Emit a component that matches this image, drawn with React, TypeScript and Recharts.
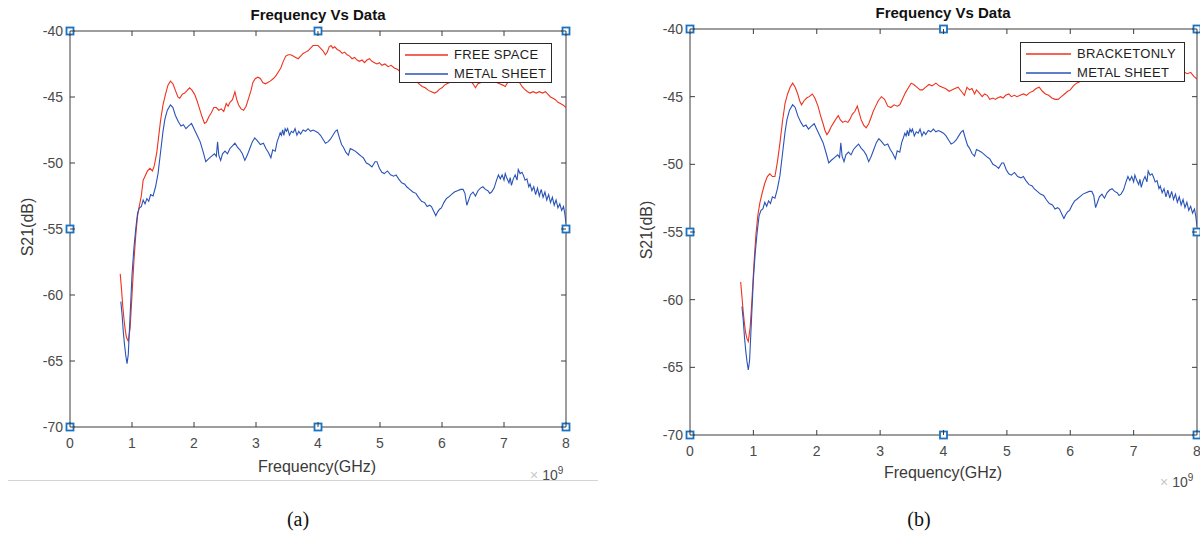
import React from "react";
import { LineChart, Line, XAxis, YAxis, Legend, ReferenceDot, ReferenceLine } from "recharts";

const xTicks = [0, 1, 2, 3, 4, 5, 6, 7, 8];
const yTicks = [-70, -65, -60, -55, -50, -45, -40];

// selection handles drawn by MATLAB on the axes box
const handleFreq = [0, 4, 8, 0, 8, 0, 4, 8];
const handleDb = [-40, -40, -40, -55, -55, -70, -70, -70];

// METAL SHEET (same trace in both panels), GHz / dB
const metalFreq = [
  0.82, 0.84, 0.86, 0.88, 0.9, 0.92, 0.94, 0.96, 0.98, 1.0, 1.03, 1.06, 1.09, 1.12, 1.15, 1.18, 1.21, 1.24, 1.27, 1.3,
  1.34, 1.38, 1.42, 1.46, 1.5, 1.53, 1.57, 1.62, 1.66, 1.7, 1.75, 1.79, 1.83, 1.87, 1.91, 1.96, 2.0, 2.05, 2.1, 2.15,
  2.19, 2.23, 2.28, 2.33, 2.36, 2.38, 2.4, 2.43, 2.46, 2.5, 2.54, 2.58, 2.62, 2.66, 2.7, 2.74, 2.78, 2.82, 2.86, 2.9,
  2.94, 2.98, 3.02, 3.07, 3.12, 3.16, 3.2, 3.24, 3.27, 3.31, 3.34, 3.37, 3.39, 3.41, 3.43, 3.45, 3.47, 3.49, 3.51, 3.54,
  3.57, 3.6, 3.63, 3.66, 3.69, 3.72, 3.76, 3.8, 3.84, 3.88, 3.92, 3.96, 4.0, 4.04, 4.08, 4.12, 4.16, 4.2, 4.24, 4.28,
  4.31, 4.34, 4.38, 4.41, 4.45, 4.49, 4.52, 4.56, 4.6, 4.65, 4.7, 4.73, 4.78, 4.82, 4.87, 4.92, 4.95, 4.99, 5.03, 5.07,
  5.12, 5.17, 5.22, 5.26, 5.3, 5.35, 5.4, 5.43, 5.48, 5.53, 5.58, 5.62, 5.67, 5.72, 5.76, 5.8, 5.83, 5.87, 5.9, 5.93,
  5.96, 5.99, 6.03, 6.07, 6.1, 6.15, 6.2, 6.25, 6.3, 6.34, 6.37, 6.4, 6.43, 6.46, 6.5, 6.54, 6.58, 6.62, 6.66, 6.7,
  6.74, 6.77, 6.8, 6.84, 6.88, 6.91, 6.94, 6.97, 7.0, 7.02, 7.05, 7.08, 7.1, 7.12, 7.15, 7.18, 7.21, 7.23, 7.26, 7.29,
  7.31, 7.34, 7.37, 7.4, 7.42, 7.45, 7.48, 7.51, 7.54, 7.57, 7.6, 7.63, 7.66, 7.69, 7.72, 7.75, 7.78, 7.81, 7.84, 7.87,
  7.9, 7.93, 7.96, 7.98, 8.0,
];
const metalDb = [
  -60.5, -61.5, -62.8, -63.8, -64.6, -65.2, -64.5, -62.5, -60.5, -58.5, -56.5, -55.0, -53.8, -53.4, -53.3, -52.8, -53.1, -52.7, -52.9, -52.4,
  -52.5, -51.8, -50.8, -49.2, -47.6, -46.7, -46.0, -45.6, -45.8, -46.4, -46.9, -47.2, -47.1, -47.4, -47.2, -47.0, -47.4, -47.9, -48.4, -49.2,
  -49.9, -49.7, -49.5, -49.3, -49.5, -48.4, -49.4, -49.8, -49.3, -49.1, -49.3, -48.9, -48.7, -48.5, -48.8, -49.0, -49.3, -49.8, -49.4, -48.9,
  -48.4, -48.1, -48.3, -48.6, -48.5, -48.9, -49.2, -49.6, -49.0, -49.1, -48.4, -48.0, -47.7, -47.9, -47.5, -47.9, -47.4, -47.6, -47.4, -47.9,
  -47.6, -47.7, -47.4, -47.9, -47.6, -47.8, -47.5, -47.6, -47.4, -47.6, -47.5, -47.6, -47.7, -47.9, -48.2, -48.5, -48.4, -48.2, -47.9, -47.6,
  -47.5, -48.0, -48.6, -48.8, -49.2, -49.4, -48.9, -49.0, -49.1, -49.3, -49.5, -49.6, -50.0, -50.1, -50.3, -49.9, -49.9, -50.4, -50.7, -50.8,
  -50.6, -50.9, -51.0, -50.9, -51.2, -51.5, -51.6, -51.8, -52.0, -52.2, -52.3, -52.6, -52.9, -53.0, -53.3, -53.2, -53.3, -53.7, -54.0, -53.7,
  -53.5, -53.4, -53.0, -52.7, -52.6, -52.4, -52.2, -52.1, -52.0, -52.0, -52.3, -53.2, -52.8, -52.4, -52.2, -52.5, -52.1, -51.9, -51.8, -52.0,
  -52.1, -52.3, -52.2, -51.9, -51.3, -50.9, -51.2, -50.9, -51.3, -50.8, -51.2, -51.5, -51.1, -51.7, -51.2, -50.9, -51.3, -50.5, -50.8, -50.7,
  -50.9, -51.3, -51.2, -51.8, -51.6, -52.1, -51.8, -52.4, -51.9, -52.5, -52.0, -52.6, -52.2, -52.8, -52.4, -53.0, -52.6, -53.2, -52.8, -53.4,
  -53.1, -53.6, -53.3, -53.8, -54.6,
];

// FREE SPACE, panel (a)
const freeFreq = [
  0.81, 0.83, 0.85, 0.87, 0.89, 0.91, 0.94, 0.97, 1.0, 1.03, 1.06, 1.09, 1.12, 1.15, 1.18, 1.21, 1.25, 1.29, 1.33, 1.36,
  1.4, 1.43, 1.46, 1.5, 1.54, 1.58, 1.62, 1.66, 1.7, 1.74, 1.77, 1.81, 1.85, 1.89, 1.93, 1.97, 2.01, 2.05, 2.09, 2.13,
  2.17, 2.2, 2.24, 2.28, 2.32, 2.36, 2.4, 2.44, 2.48, 2.52, 2.55, 2.58, 2.62, 2.66, 2.69, 2.72, 2.76, 2.8, 2.84, 2.88,
  2.92, 2.95, 2.99, 3.03, 3.07, 3.11, 3.15, 3.19, 3.23, 3.28, 3.32, 3.36, 3.4, 3.44, 3.48, 3.52, 3.56, 3.6, 3.64, 3.68,
  3.72, 3.76, 3.8, 3.84, 3.88, 3.92, 3.96, 4.0, 4.04, 4.08, 4.12, 4.15, 4.18, 4.21, 4.24, 4.27, 4.31, 4.35, 4.39, 4.43,
  4.47, 4.51, 4.55, 4.59, 4.63, 4.67, 4.71, 4.75, 4.79, 4.83, 4.87, 4.91, 4.95, 4.99, 5.03, 5.08, 5.13, 5.18, 5.23, 5.28,
  5.33, 5.38, 5.43, 5.48, 5.53, 5.58, 5.63, 5.68, 5.73, 5.78, 5.83, 5.88, 5.92, 5.96, 6.0, 6.04, 6.08, 6.12, 6.17, 6.22,
  6.27, 6.32, 6.37, 6.42, 6.46, 6.5, 6.54, 6.58, 6.63, 6.68, 6.73, 6.78, 6.83, 6.88, 6.93, 6.98, 7.02, 7.06, 7.11, 7.16,
  7.2, 7.25, 7.29, 7.33, 7.38, 7.42, 7.47, 7.52, 7.57, 7.62, 7.67, 7.71, 7.75, 7.79, 7.83, 7.87, 7.91, 7.95, 8.0,
];
const freeDb = [
  -58.4, -59.5, -60.8, -61.8, -62.6, -63.2, -63.5, -62.5, -60.0, -57.5, -55.5, -54.0, -53.2, -52.5, -51.3, -51.0, -50.6, -50.4, -50.6, -50.2,
  -49.2, -48.0, -46.8, -45.6, -44.8, -44.1, -43.8, -44.0, -44.5, -45.0, -45.1, -44.8, -44.7, -44.5, -44.3, -44.5, -44.8, -45.3, -45.9, -46.5,
  -47.0, -46.9, -46.5, -46.2, -45.8, -45.8, -46.0, -45.9, -46.1, -45.5, -45.7, -45.4, -45.2, -44.6, -45.2, -45.6, -45.9, -46.0, -45.7, -45.1,
  -44.5, -43.9, -43.6, -43.5, -43.6, -43.9, -44.0, -43.9, -43.8, -43.6, -43.4, -43.1, -42.8, -42.3, -41.9, -41.8, -41.8, -41.9, -42.0, -42.1,
  -41.9, -41.7, -41.6, -41.5, -41.3, -41.1, -41.1, -41.1, -41.3, -41.5, -41.8, -41.6, -41.2, -41.1, -41.3, -41.2, -41.4, -41.5, -41.7, -41.6,
  -41.8, -41.9, -42.1, -42.0, -42.2, -42.3, -42.2, -42.4, -42.2, -42.1, -42.3, -42.4, -42.5, -42.4, -42.6, -42.5, -42.7, -42.6, -42.8, -42.9,
  -43.1, -43.0, -43.3, -43.4, -43.6, -43.8, -44.0, -44.2, -44.3, -44.5, -44.6, -44.7, -44.6, -44.4, -44.3, -44.1, -44.0, -43.9, -43.7, -43.8,
  -43.6, -43.7, -43.8, -43.9, -43.8, -44.0, -44.3, -44.0, -43.9, -43.8, -43.9, -43.7, -43.8, -43.9, -44.0, -44.1, -44.2, -43.9, -43.8, -43.7,
  -43.8, -43.9, -44.2, -44.4, -44.6, -44.7, -44.6, -44.7, -44.6, -44.7, -44.6, -44.8, -45.0, -45.1, -45.2, -45.4, -45.5, -45.6, -45.8,
];

// BRACKETONLY, panel (b)
const bracketFreq = [
  0.8, 0.82, 0.84, 0.86, 0.88, 0.9, 0.92, 0.95, 0.98, 1.01, 1.04, 1.07, 1.1, 1.14, 1.18, 1.22, 1.26, 1.3, 1.34, 1.38,
  1.42, 1.46, 1.5, 1.54, 1.58, 1.62, 1.66, 1.7, 1.73, 1.76, 1.8, 1.84, 1.88, 1.93, 1.97, 2.02, 2.06, 2.1, 2.13, 2.16,
  2.19, 2.23, 2.27, 2.31, 2.34, 2.37, 2.41, 2.45, 2.49, 2.52, 2.56, 2.6, 2.64, 2.67, 2.7, 2.74, 2.78, 2.82, 2.86, 2.89,
  2.93, 2.97, 3.02, 3.07, 3.12, 3.17, 3.22, 3.27, 3.31, 3.36, 3.4, 3.45, 3.49, 3.53, 3.58, 3.63, 3.67, 3.72, 3.77, 3.82,
  3.88, 3.93, 3.98, 4.03, 4.09, 4.13, 4.18, 4.23, 4.28, 4.33, 4.37, 4.41, 4.45, 4.49, 4.52, 4.56, 4.61, 4.65, 4.69, 4.73,
  4.78, 4.82, 4.85, 4.9, 4.94, 4.98, 5.03, 5.07, 5.12, 5.16, 5.21, 5.26, 5.31, 5.36, 5.41, 5.46, 5.51, 5.56, 5.61, 5.66,
  5.71, 5.76, 5.81, 5.86, 5.91, 5.96, 6.0, 6.05, 6.1, 6.15, 6.22, 6.3, 6.4, 6.5, 6.6, 6.7, 6.8, 6.9, 7.0, 7.1,
  7.2, 7.3, 7.4, 7.5, 7.6, 7.7, 7.76, 7.8, 7.85, 7.9, 7.95, 8.0,
];
const bracketDb = [
  -58.7, -59.8, -60.9, -61.8, -62.5, -62.9, -63.1, -62.0, -59.8, -57.3, -55.2, -53.8, -52.9, -52.1, -51.4, -50.9, -50.7, -50.9, -50.9, -49.8,
  -48.4, -46.8, -45.5, -44.8, -44.3, -44.0, -44.3, -44.8, -45.3, -45.6, -45.3, -45.1, -45.0, -44.8, -45.1, -45.7, -46.4, -47.0, -47.5, -47.8,
  -47.6, -47.2, -46.9, -46.6, -46.4, -46.7, -46.9, -46.8, -46.9, -46.7, -46.3, -46.1, -45.7, -46.2, -46.7, -47.1, -47.3, -47.0, -46.5, -46.1,
  -45.7, -45.3, -45.0, -45.2, -45.7, -45.8, -45.6, -45.7, -45.6, -45.1, -44.7, -44.3, -44.0, -44.1, -44.3, -44.5, -44.5, -44.3, -44.1, -44.2,
  -44.0, -44.2, -44.3, -44.4, -44.6, -44.5, -44.4, -44.3, -44.6, -44.9, -44.3, -44.5, -44.4, -44.8, -44.5, -44.7, -45.0, -44.8, -44.9, -45.2,
  -45.1, -45.2, -45.1, -45.0, -45.1, -44.9, -44.8, -45.0, -44.9, -45.0, -44.9, -44.8, -44.9, -44.7, -44.6, -44.4, -44.3, -44.6, -44.8, -44.9,
  -45.1, -45.2, -45.2, -45.0, -44.8, -44.6, -44.5, -44.2, -44.0, -43.9, -43.8, -43.7, -43.6, -43.5, -43.4, -43.4, -43.3, -43.3, -43.2, -43.2,
  -43.1, -43.1, -43.0, -43.1, -43.2, -43.1, -42.9, -43.2, -43.3, -43.2, -43.5, -43.7,
];

const RED = "#f0321e";
const BLUE = "#2a53b8";
const AXIS = "#3c3c3c";
const TICK_FILL = "#4a4a4a";

const toPoints = (fs: number[], ds: number[]) => fs.map((f, i) => ({ f, db: ds[i] }));

const handleShape = (p: any) => (
  <rect x={p.cx - 3.5} y={p.cy - 3.5} width={7} height={7} fill="#fff" stroke="#1a72c0" strokeWidth={1.8} />
);

// MATLAB style ticks: pointing inwards, repeated on the opposite side of the box
const bottomTick = (top: number) => (p: any) => (
  <g>
    <line x1={p.x} x2={p.x} y1={p.y} y2={p.y - 5} stroke={AXIS} />
    <line x1={p.x} x2={p.x} y1={top} y2={top + 5} stroke={AXIS} />
    <text x={p.x} y={p.y + 21} textAnchor="middle" fill={TICK_FILL} fontSize={14}>
      {p.payload.value}
    </text>
  </g>
);

const leftTick = (right: number) => (p: any) => (
  <g>
    <line x1={p.x} x2={p.x + 5} y1={p.y} y2={p.y} stroke={AXIS} />
    <line x1={right} x2={right - 5} y1={p.y} y2={p.y} stroke={AXIS} />
    <text x={p.x - 7} y={p.y + 5} textAnchor="end" fill={TICK_FILL} fontSize={14}>
      {p.payload.value}
    </text>
  </g>
);

type Series = { name: string; color: string; freq: number[]; db: number[] };

type PanelProps = {
  left: number;
  margin: { top: number; right: number; bottom: number; left: number };
  series: Series[];
  legend: { left: number; top: number; width: number; line: number };
};

const CHART_W = 600;
const CHART_H = 535;

const Panel = ({ left, margin, series, legend }: PanelProps) => {
  // legend rows come straight from the series list, in plotting order
  const renderLegend = () => (
    <div
      style={{
        width: legend.width,
        height: 40,
        boxSizing: "border-box",
        border: "1px solid #2a2a2a",
        background: "#fff",
        paddingTop: 1,
      }}
    >
      {series.map((s) => (
        <div key={s.name} style={{ display: "flex", alignItems: "center", height: 19 }}>
          <svg width={legend.line} height={4} style={{ margin: "0 6px 0 5px", display: "block" }}>
            <line x1={0} x2={legend.line} y1={2} y2={2} stroke={s.color} strokeWidth={1.3} />
          </svg>
          <span style={{ fontSize: 13, color: "#1e1e1e", letterSpacing: 0.3 }}>{s.name}</span>
        </div>
      ))}
    </div>
  );

  return (
    <div style={{ position: "absolute", left, top: 0 }}>
      <LineChart width={CHART_W} height={CHART_H} margin={margin}>
        <XAxis
          dataKey="f"
          type="number"
          domain={[0, 8]}
          ticks={xTicks}
          interval={0}
          allowDataOverflow
          height={30}
          tickSize={0}
          tickMargin={0}
          tickLine={false}
          tick={bottomTick(margin.top)}
          axisLine={{ stroke: AXIS }}
        />
        <YAxis
          type="number"
          domain={[-70, -40]}
          ticks={yTicks}
          interval={0}
          allowDataOverflow
          width={60}
          tickSize={0}
          tickMargin={0}
          tickLine={false}
          tick={leftTick(CHART_W - margin.right)}
          axisLine={{ stroke: AXIS }}
        />
        <ReferenceLine y={-40} stroke={AXIS} ifOverflow="visible" />
        <ReferenceLine x={8} stroke={AXIS} ifOverflow="visible" />
        {series.map((s) => (
          <Line
            key={s.name}
            name={s.name}
            data={toPoints(s.freq, s.db)}
            dataKey="db"
            stroke={s.color}
            strokeWidth={1.1}
            dot={false}
            activeDot={false}
            isAnimationActive={false}
          />
        ))}
        {handleFreq.map((f, i) => (
          <ReferenceDot key={i} x={f} y={handleDb[i]} r={3.5} ifOverflow="visible" shape={handleShape} />
        ))}
        <Legend
          layout="horizontal"
          align="center"
          verticalAlign="middle"
          content={renderLegend}
          wrapperStyle={{ left: legend.left, top: legend.top, width: legend.width, height: 40 }}
        />
      </LineChart>
    </div>
  );
};

const textBase: React.CSSProperties = {
  position: "absolute",
  fontFamily: "'Liberation Sans', Arial, sans-serif",
  color: "#333",
  whiteSpace: "nowrap",
};

const Title = ({ cx, cy }: { cx: number; cy: number }) => (
  <div style={{ ...textBase, left: cx - 100, top: cy - 10, width: 200, textAlign: "center", fontSize: 15, fontWeight: "bold", color: "#111", lineHeight: "20px" }}>
    Frequency Vs Data
  </div>
);

const YLabel = ({ cx, cy }: { cx: number; cy: number }) => (
  <div style={{ ...textBase, left: cx - 50, top: cy - 10, width: 100, height: 20, lineHeight: "20px", textAlign: "center", fontSize: 16, color: "#3a3a3a", transform: "rotate(-90deg)" }}>
    S21(dB)
  </div>
);

const XLabel = ({ cx, cy }: { cx: number; cy: number }) => (
  <div style={{ ...textBase, left: cx - 100, top: cy - 10, width: 200, lineHeight: "20px", textAlign: "center", fontSize: 16, color: "#3a3a3a" }}>
    Frequency(GHz)
  </div>
);

const Exponent = ({ x, y }: { x: number; y: number }) => (
  <div style={{ ...textBase, left: x, top: y, fontSize: 14, color: "#4a4a4a", lineHeight: "16px" }}>
    <span style={{ color: "#c8c8c8", marginRight: 4 }}>×</span>10<sup style={{ fontSize: 10, verticalAlign: "6px" }}>9</sup>
  </div>
);

const Caption = ({ cx, cy, text }: { cx: number; cy: number; text: string }) => (
  <div style={{ position: "absolute", left: cx - 30, top: cy - 12, width: 60, textAlign: "center", fontFamily: "'Liberation Serif', 'Times New Roman', serif", fontSize: 20, lineHeight: "24px", color: "#111" }}>
    {text}
  </div>
);

export default function App() {
  return (
    <div style={{ position: "absolute", left: 0, top: 0, width: 1200, height: 535, overflow: "hidden", background: "#fff", fontFamily: "'Liberation Sans', Arial, sans-serif" }}>
      <Panel
        left={0}
        margin={{ top: 31, right: 34, bottom: 78, left: 10 }}
        series={[
          { name: "FREE SPACE", color: RED, freq: freeFreq, db: freeDb },
          { name: "METAL SHEET", color: BLUE, freq: metalFreq, db: metalDb },
        ]}
        legend={{ left: 399, top: 43, width: 153, line: 43 }}
      />
      <Panel
        left={600}
        margin={{ top: 29, right: 3, bottom: 70, left: 30 }}
        series={[
          { name: "BRACKETONLY", color: RED, freq: bracketFreq, db: bracketDb },
          { name: "METAL SHEET", color: BLUE, freq: metalFreq, db: metalDb },
        ]}
        legend={{ left: 420, top: 42, width: 165, line: 45 }}
      />
      <Title cx={318} cy={15} />
      <Title cx={943} cy={13} />
      <YLabel cx={28} cy={227} />
      <YLabel cx={647} cy={230} />
      <XLabel cx={317} cy={467} />
      <XLabel cx={943} cy={473} />
      <Exponent x={530} y={463} />
      <Exponent x={1160} y={470} />
      <div style={{ position: "absolute", left: 8, top: 480, width: 590, height: 0, borderTop: "1px solid #d4d4d4" }} />
      <Caption cx={298} cy={519} text="(a)" />
      <Caption cx={919} cy={519} text="(b)" />
    </div>
  );
}
